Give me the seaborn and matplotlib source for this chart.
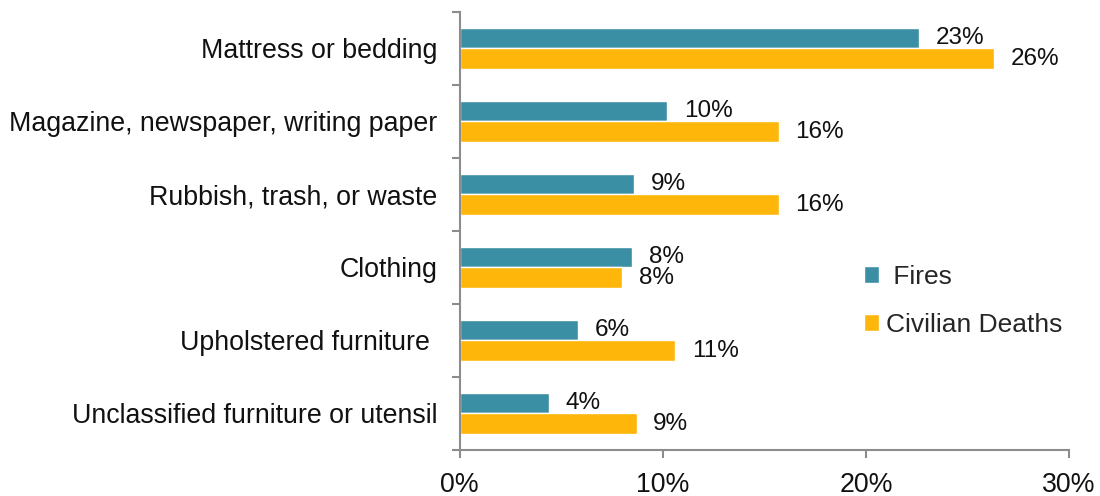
import matplotlib.pyplot as plt
import numpy as np
import pandas as pd
import seaborn as sns

categories = ['Mattress or bedding', 'Magazine, newspaper, writing paper',
              'Rubbish, trash, or waste', 'Clothing', 'Upholstered furniture ',
              'Unclassified furniture or utensil']
fires = [22.6, 10.2, 8.6, 8.5, 5.8, 4.4]
deaths = [26.3, 15.7, 15.7, 8.0, 10.6, 8.7]
fires_labels = ['23%', '10%', '9%', '8%', '6%', '4%']
deaths_labels = ['26%', '16%', '16%', '8%', '11%', '9%']
series = ['Fires', 'Civilian Deaths']
colors = ['#3A8FA5', '#FFB60B']

df = pd.DataFrame({
    'Category': categories * 2,
    'Share': fires + deaths,
    'Series': [series[0]] * len(categories) + [series[1]] * len(categories),
})

sns.set_style('white')
plt.rcParams['font.family'] = ['Liberation Sans', 'DejaVu Sans']

fig, ax = plt.subplots(figsize=(11, 4.96), dpi=100)
fig.subplots_adjust(left=0.418, right=0.972, top=0.976, bottom=0.093)

sns.barplot(data=df, y='Category', x='Share', hue='Series', orient='h',
            palette=colors, width=0.56, saturation=1, ax=ax, legend=True)

# data labels, Fires first then Civilian Deaths
for container, labels in zip(ax.containers, [fires_labels, deaths_labels]):
    ax.bar_label(container, labels=labels, padding=12, fontsize=17.5, color='#111111')

ax.set_xlim(0, 30)
ax.set_ylim(5.5, -0.5)
ax.set_xticks([0, 10, 20, 30])
ax.set_xticklabels(['0%', '10%', '20%', '30%'])
ax.set_yticks(range(len(categories)))
ax.set_yticklabels(categories)
ax.set_yticks(np.arange(-0.5, len(categories)), minor=True)
ax.tick_params(axis='both', which='major', labelsize=19.3, labelcolor='#111111')
ax.tick_params(axis='y', which='major', left=False, length=0, pad=16)
ax.tick_params(axis='y', which='minor', left=True, length=6, width=1.5,
               color='#8c8c8c', direction='out')
ax.tick_params(axis='x', which='major', bottom=True, length=6, width=1.5,
               color='#8c8c8c', direction='out', pad=10)
ax.set_xlabel('')
ax.set_ylabel('')

for side in ['top', 'right']:
    ax.spines[side].set_visible(False)
for side in ['left', 'bottom']:
    ax.spines[side].set_color('#8c8c8c')
    ax.spines[side].set_linewidth(1.5)

handles, labels = ax.get_legend_handles_labels()
ax.legend(handles, [' Fires', 'Civilian Deaths'], loc='center left',
          bbox_to_anchor=(0.625, 0.34), frameon=False, fontsize=19,
          handlelength=0.55, handleheight=0.6, handletextpad=0.25, labelspacing=0.9)

plt.savefig('out.png')
